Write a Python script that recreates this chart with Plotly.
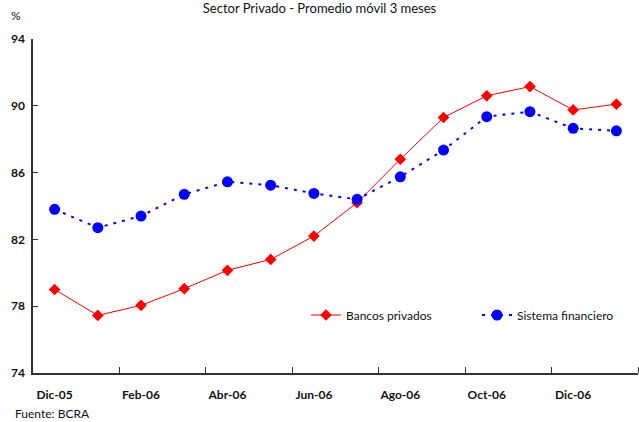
import plotly.graph_objects as go

# Monthly series: 3-month moving average, private sector (%)
meses = ["Dic-05", "Ene-06", "Feb-06", "Mar-06", "Abr-06", "May-06", "Jun-06",
         "Jul-06", "Ago-06", "Sep-06", "Oct-06", "Nov-06", "Dic-06", "Ene-07"]
bancos_privados = [79.0, 77.45, 78.05, 79.05, 80.15, 80.8, 82.2,
                   84.2, 86.8, 89.3, 90.6, 91.15, 89.75, 90.1]
sistema_financiero = [83.8, 82.7, 83.4, 84.7, 85.45, 85.25, 84.75,
                      84.4, 85.75, 87.35, 89.35, 89.65, 88.65, 88.5]
y_ticks = [74, 78, 82, 86, 90, 94]

idx = list(range(len(meses)))
label_idx = idx[::2]
label_txt = meses[::2]
boundary_ticks = [i + 1.5 for i in label_idx]

FONT = "Lato"
AXIS_COLOR = "#333333"

fig = go.Figure()

fig.add_trace(go.Scatter(
    x=idx, y=bancos_privados, name="Bancos privados", mode="lines+markers",
    line=dict(color="#ff0000", width=1),
    marker=dict(symbol="diamond", size=9, color="#ff0000"),
    legend="legend", showlegend=True,
))
fig.add_trace(go.Scatter(
    x=idx, y=sistema_financiero, name="Sistema financiero", mode="lines+markers",
    line=dict(color="#0000ff", width=2, dash="3px,6px"),
    marker=dict(symbol="circle", size=11, color="#0000ff"),
    legend="legend2", showlegend=True,
))

fig.update_layout(
    width=639, height=422,
    margin=dict(l=33, r=1, t=39, b=49),
    paper_bgcolor="white", plot_bgcolor="white",
    showlegend=True,
    font=dict(family=FONT, size=12, color="#111111"),
    title=dict(text="Sector Privado - Promedio móvil 3 meses",
               x=0.5, xanchor="center", xref="container",
               y=1 - 8 / 422, yanchor="middle", yref="container",
               font=dict(family=FONT, size=13, color="#111111")),
    legend=dict(x=(306 - 33) / 605, xanchor="left", y=(373 - 315) / 334, yanchor="middle",
                orientation="h", bgcolor="rgba(0,0,0,0)", borderwidth=0,
                font=dict(family=FONT, size=12, color="#111111")),
    legend2=dict(x=(477 - 33) / 605, xanchor="left", y=(373 - 315) / 334, yanchor="middle",
                 orientation="h", bgcolor="rgba(0,0,0,0)", borderwidth=0,
                 font=dict(family=FONT, size=12, color="#111111")),
    xaxis=dict(
        range=[-0.5, len(meses) - 0.5],
        tickmode="array", tickvals=label_idx, ticktext=label_txt,
        ticks="", showgrid=False, zeroline=False,
        showline=True, linecolor=AXIS_COLOR, linewidth=1.5,
        tickfont=dict(family=FONT, size=12, color="#111111", weight="bold"),
        ticklabelstandoff=10,
        minor=dict(tickmode="array", tickvals=boundary_ticks, ticks="inside",
                   ticklen=6, tickcolor=AXIS_COLOR, tickwidth=1.2, showgrid=False),
    ),
    yaxis=dict(
        range=[74, 94], tickmode="array", tickvals=y_ticks,
        ticks="inside", ticklen=5, tickcolor=AXIS_COLOR, tickwidth=1.2,
        showgrid=False, zeroline=False,
        showline=True, linecolor=AXIS_COLOR, linewidth=1.5,
        tickfont=dict(family=FONT, size=12, color="#111111", weight="bold"),
        ticklabelstandoff=4,
    ),
    annotations=[
        dict(text="%", x=9, y=15, xref="paper", yref="paper", showarrow=False,
             xanchor="left", yanchor="middle",
             font=dict(family=FONT, size=12, color="#111111")),
        dict(text="Fuente: BCRA", x=13, y=413, xref="paper", yref="paper",
             showarrow=False, xanchor="left", yanchor="middle",
             font=dict(family=FONT, size=12, color="#111111")),
    ],
)

# Convert pixel positions of the page notes into paper coordinates
for ann in fig.layout.annotations:
    ann.x = (ann.x - 33) / 605
    ann.y = (373 - ann.y) / 334

fig.write_html("out.html")
